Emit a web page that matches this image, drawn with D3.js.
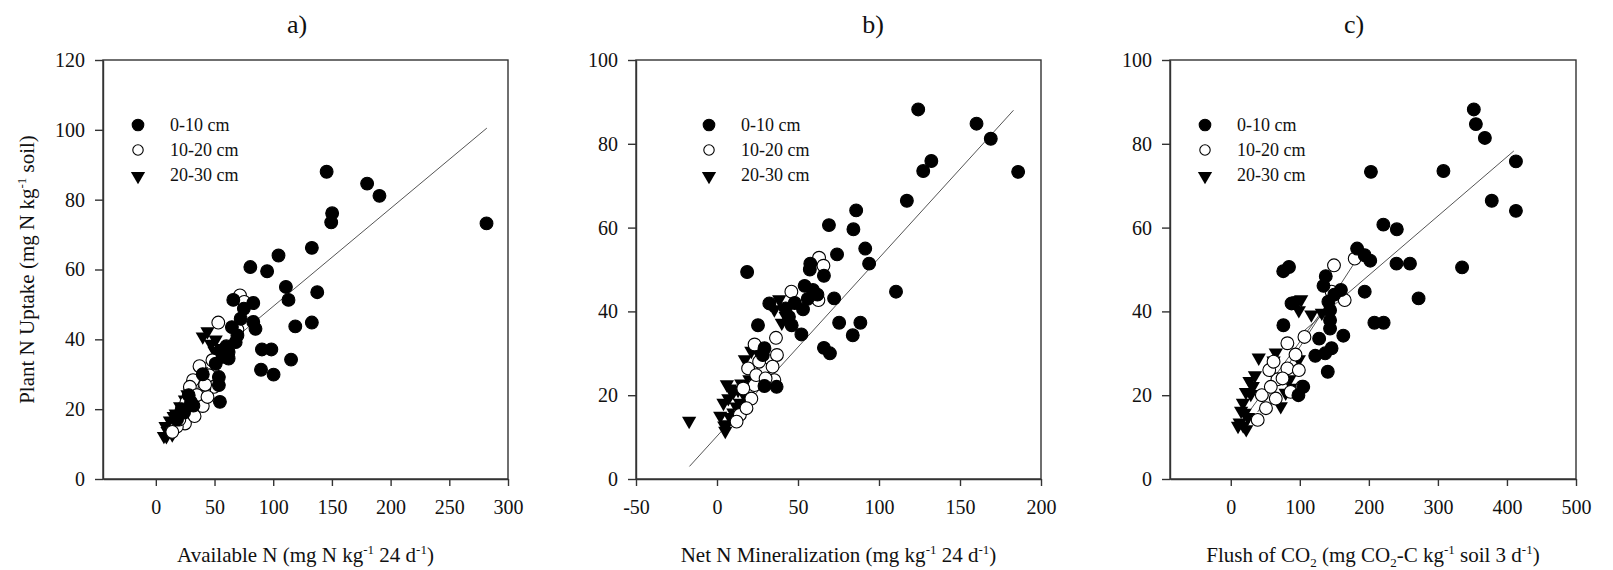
<!DOCTYPE html>
<html>
<head>
<meta charset="UTF-8">
<title>Plant N uptake vs soil N tests</title>
<script src="https://d3js.org/d3.v7.min.js"></script>
<style>
  body { margin: 0; background: #fff; }
  svg { display: block; font-family: "Liberation Serif", "Times New Roman", serif; }
</style>
</head>
<body>
<svg id="chart" width="1613" height="570"></svg>
<script>
var depths = ["0-10 cm", "10-20 cm", "20-30 cm"];

// a) Available N vs plant N uptake
var a_0_10 = [[145.5,88.0],[180,84.6],[190.5,81.1],[150.2,76.1],[149.4,73.5],[281.7,73.2],[132.9,66.2],[104.5,64.0],
  [80.5,60.7],[94.8,59.5],[110.8,55.0],[137.5,53.5],[113,51.3],[66,51.3],[83,50.4],[75,48.8],[72.3,45.9],[83,45.0],
  [84.9,43.0],[132.9,44.8],[118.8,43.7],[64.8,43.5],[69.5,41.1],[90.4,37.1],[98.4,37.1],[115.2,34.2],[62,36.4],
  [62,34.5],[89.6,31.3],[100.3,29.9],[51,33],[53.7,29.2],[53.7,26.9],[54.6,22.1],[68,39.2],[60,38],[57,35],
  [40,30],[28,24],[22,20],[30,22],[32,21],[24,19],[18,17]];
var a_10_20 = [[71.7,52.6],[75.3,50.7],[53.2,44.8],[69.5,42.8],[48.2,34],[37.2,32.3],[45.5,29.7],[49.6,26.4],
  [41.3,25.9],[38.6,23],[31.7,28.3],[29,26.4],[31.7,21.5],[24.8,15.9],[17.9,15],[40,20.9],[35,24],[44,23.5],
  [26,22],[33,18],[20,17],[14,13.5],[42,27]];
var a_20_30 = [[40,41.1],[44,42.6],[51,40.2],[55,37.8],[38.6,31.1],[6.9,12.6],[8.3,15.4],[15.2,18.3],[20.7,21.1],
  [24.8,23],[29,25],[13.8,16.4],[10,14],[12,17],[17,19],[19,16.5],[22,19],[25,21],[27,24.5],[30,20],[33,22],
  [18,14.8],[9,12.5],[26,18],[14,13],[50,37],[47,39]];
var a_fit = [[[36,31.5],[282,100.5]]];

// b) Net N mineralization vs plant N uptake
var b_0_10 = [[124.2,88.2],[160.2,84.8],[169,81.2],[132.3,75.9],[127.3,73.5],[185.9,73.3],[117.2,66.4],[85.9,64.1],
  [69.1,60.6],[84.2,59.6],[91.5,55],[93.9,51.4],[74.1,53.6],[57.6,51.4],[57.3,50],[66,48.5],[54.1,46.1],[59.2,45.1],
  [110.5,44.7],[72.3,43.1],[53.1,40.5],[18.6,49.4],[32.3,41.9],[44.4,38.7],[46.1,36.7],[52.1,34.5],[25.3,36.7],
  [75.4,37.3],[88.5,37.3],[83.8,34.3],[66,31.3],[69.7,30],[29.3,31.2],[28.3,29.6],[36.8,22],[29.3,22.2],[42.4,40.7],
  [48,42],[62,44],[56,43]];
var b_10_20 = [[63,52.8],[65.7,50.9],[45.9,44.7],[62.6,42.7],[36.4,33.7],[37,29.6],[23.2,32.1],[28.7,26.2],
  [34.3,26.8],[35.4,23.6],[21.2,19.2],[23.2,22.4],[14.1,15.3],[12.1,13.7],[19.2,26.4],[24.2,24.8],[16.2,21.6],
  [18.2,16.9],[26,28],[30,24]];
var b_20_30 = [[-17.2,14.1],[38.4,43.1],[35.4,40.7],[33,42],[42.4,39.1],[40,37.5],[21.2,30.8],[17.2,28.8],[6.1,22.8],
  [8,21.8],[10,21],[13,21.5],[4,18.4],[7,19.5],[5.1,11.7],[6.1,13.3],[10.1,16.1],[14.1,18.4],[17.2,20],[12,17.5],
  [2,15.3],[24.2,31.2],[28,29],[8,15],[4.5,13],[15,23],[20,24]];
var b_fit = [[[-17,3],[183,88]]];

// c) Flush of CO2 vs plant N uptake
var c_0_10 = [[352,88.2],[355,84.7],[368,81.4],[413,75.8],[203,73.3],[308,73.5],[378,66.4],[413,64],[221,60.7],
  [240.5,59.6],[183,55],[194,53.4],[202,52.1],[240,51.4],[259.5,51.4],[335,50.5],[76,49.6],[84.3,50.6],[137.6,48.4],
  [134.3,46.1],[159.5,45.1],[194,44.7],[272,43.1],[88,41.9],[141.4,42.3],[143.8,40.3],[143.8,37.9],[143.8,35.9],
  [208,37.3],[221.4,37.3],[76.2,36.7],[163,34.2],[128,33.5],[122.4,29.4],[136.7,30],[146,31.2],[140.5,25.6],
  [98,20],[105,22],[150,44],[92,42]];
var c_10_20 = [[179.5,52.6],[149.5,51],[165,42.7],[146,44.7],[106.7,33.9],[82,32.4],[93.8,29.7],[82,26.4],[98.6,26],
  [67.6,23.8],[103.3,22],[65.2,19.2],[51,16.9],[39,14.1],[55.7,26],[62,28],[86.7,20.8],[45,20],[58,22],[75,24]];
var c_20_30 = [[102,43.1],[98.6,40.5],[116.7,39.5],[131.9,39.9],[40.5,29.2],[65.2,30.4],[62,28.5],[98.6,28.8],
  [27.1,23.6],[31.9,22.4],[22,21],[29,20.5],[17.6,18.4],[15,16.5],[12.9,13.7],[22.4,12.1],[10.5,12.9],[72.4,17.6],
  [79.5,20.8],[35,25],[20,16],[25,15],[18,13],[90,22],[85,24]];
var c_fit = [[[100,34.5],[410,78.3]], [[39,16],[180,51.8]], [[13,13],[132,40]]];

var xTicksA = [0, 50, 100, 150, 200, 250, 300];
var xTicksB = [-50, 0, 50, 100, 150, 200];
var xTicksC = [0, 100, 200, 300, 400, 500];
var yTicksA = [0, 20, 40, 60, 80, 100, 120];
var yTicksBC = [0, 20, 40, 60, 80, 100];

// text pieces: 0 normal, 1 superscript, -1 subscript
var xTitleA = [["Available N (mg N kg",0],["-1",1],[" 24 d",0],["-1",1],[")",0]];
var xTitleB = [["Net N Mineralization (mg kg",0],["-1",1],[" 24 d",0],["-1",1],[")",0]];
var xTitleC = [["Flush of CO",0],["2",-1],[" (mg CO",0],["2",-1],["-C kg",0],["-1",1],[" soil 3 d",0],["-1",1],[")",0]];
var yTitle = [["Plant N Uptake (mg N kg",0],["-1",1],[" soil)",0]];

var svg = d3.select("#chart");
var top0 = 60, bottom0 = 479;

var panels = [
  { label: "a)", labelX: 297, left: 103, right: 508, xDomain: [-45, 300], yMax: 120,
    xTicks: xTicksA, yTicks: yTicksA, series: [a_0_10, a_10_20, a_20_30], fits: a_fit, xTitle: xTitleA,
    legendX: 138, yTitle: true },
  { label: "b)", labelX: 873, left: 636, right: 1041, xDomain: [-50, 200], yMax: 100,
    xTicks: xTicksB, yTicks: yTicksBC, series: [b_0_10, b_10_20, b_20_30], fits: b_fit, xTitle: xTitleB,
    legendX: 709 },
  { label: "c)", labelX: 1354, left: 1170, right: 1576, xDomain: [-88, 500], yMax: 100,
    xTicks: xTicksC, yTicks: yTicksBC, series: [c_0_10, c_10_20, c_20_30], fits: c_fit, xTitle: xTitleC,
    legendX: 1205 }
];

var tri = d3.symbol().type(d3.symbolTriangle).size(88);
// plain hyphen for negatives, like the original
var fmt = function(v) { return String(v); };

function writeRich(sel, parts, size) {
  var shift = 0;
  parts.forEach(function(p) {
    var want = p[1] === 1 ? -8 : (p[1] === -1 ? 5 : 0);
    sel.append("tspan")
      .attr("dy", want - shift)
      .attr("font-size", p[1] === 0 ? size : 13)
      .text(p[0]);
    shift = want;
  });
}

function drawMarker(g, kind, x, y, r) {
  if (kind === 2) {
    g.append("path").attr("d", tri)
      .attr("transform", "translate(" + x + "," + (y + 1) + ") rotate(180)")
      .attr("fill", "#000");
  } else {
    g.append("circle").attr("cx", x).attr("cy", y).attr("r", r)
      .attr("fill", kind === 0 ? "#000" : "#fff")
      .attr("stroke", "#000").attr("stroke-width", 1.1);
  }
}

panels.forEach(function(p) {
  var x = d3.scaleLinear().domain(p.xDomain).range([p.left, p.right]);
  var y = d3.scaleLinear().domain([0, p.yMax]).range([bottom0, top0]);
  var g = svg.append("g");

  // frame
  g.append("rect").attr("x", p.left).attr("y", top0)
    .attr("width", p.right - p.left).attr("height", bottom0 - top0)
    .attr("fill", "none").attr("stroke", "#333").attr("stroke-width", 1.4);

  var xa = g.append("g").attr("transform", "translate(0," + bottom0 + ")")
    .call(d3.axisBottom(x).tickValues(p.xTicks).tickFormat(fmt).tickSize(7).tickSizeOuter(0).tickPadding(14));
  var ya = g.append("g").attr("transform", "translate(" + p.left + ",0)")
    .call(d3.axisLeft(y).tickValues(p.yTicks).tickFormat(fmt).tickSize(8).tickSizeOuter(0).tickPadding(10));
  [xa, ya].forEach(function(a) {
    a.select(".domain").attr("stroke", "#333").attr("stroke-width", 1.4);
    a.selectAll(".tick line").attr("stroke", "#333").attr("stroke-width", 1.4);
    a.selectAll(".tick text").attr("font-family", "Liberation Serif").attr("font-size", 20).attr("fill", "#111");
  });

  // regression lines under markers
  p.fits.forEach(function(f) {
    g.append("line")
      .attr("x1", x(f[0][0])).attr("y1", y(f[0][1]))
      .attr("x2", x(f[1][0])).attr("y2", y(f[1][1]))
      .attr("stroke", "#555").attr("stroke-width", 1);
  });

  // points: draw deepest first so the surface layer sits on top
  [2, 1, 0].forEach(function(k) {
    p.series[k].forEach(function(d) { drawMarker(g, k, x(d[0]), y(d[1]), 6.4); });
  });

  // legend
  depths.forEach(function(name, i) {
    var ly = 125 + i * 25;
    drawMarker(g, i, p.legendX, ly, i === 1 ? 5.2 : 5.8);
    g.append("text").attr("x", p.legendX + 32).attr("y", ly + 6)
      .attr("font-size", 18).attr("fill", "#111").text(name);
  });

  g.append("text").attr("x", p.labelX).attr("y", 33).attr("text-anchor", "middle")
    .attr("font-size", 26).attr("fill", "#111").text(p.label);

  var xt = g.append("text").attr("x", (p.left + p.right) / 2).attr("y", 562)
    .attr("text-anchor", "middle").attr("font-size", 21).attr("fill", "#111");
  writeRich(xt, p.xTitle, 21);

  if (p.yTitle) {
    var yt = g.append("text").attr("transform", "translate(34," + (top0 + bottom0) / 2 + ") rotate(-90)")
      .attr("text-anchor", "middle").attr("font-size", 21).attr("fill", "#111");
    writeRich(yt, yTitle, 21);
  }
});
</script>
</body>
</html>
